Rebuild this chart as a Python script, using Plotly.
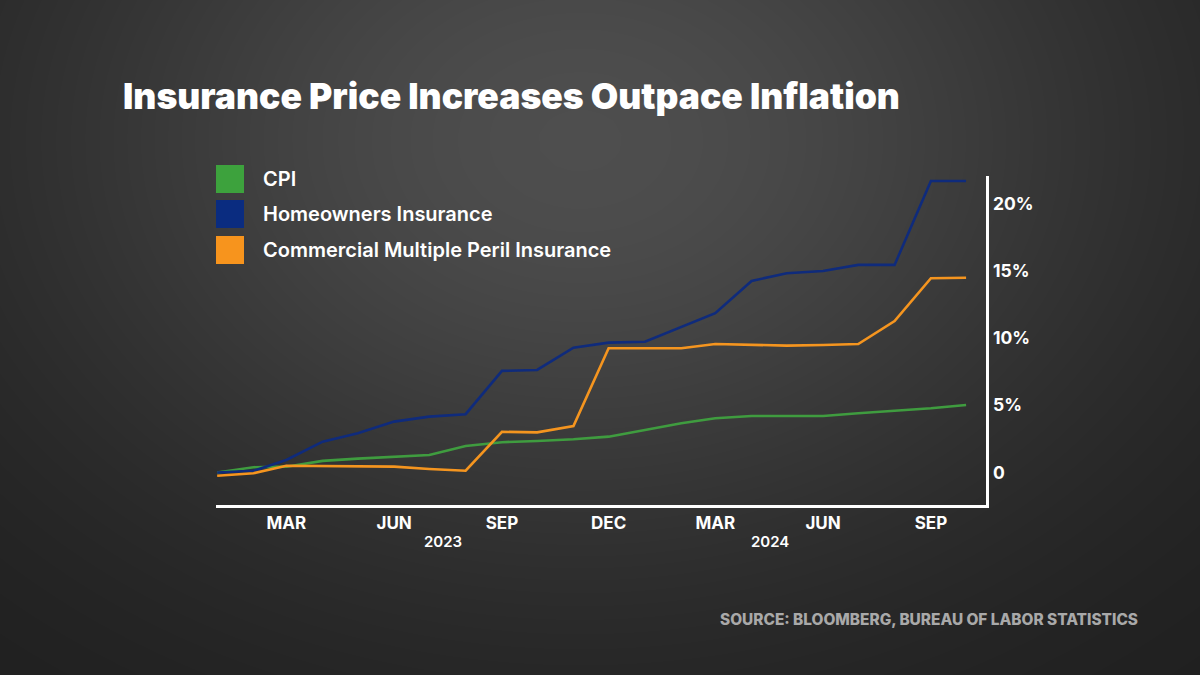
import numpy as np
import plotly.graph_objects as go

# ---------------- data ----------------
months = ["2023-01-01", "2023-02-01", "2023-03-01", "2023-04-01", "2023-05-01", "2023-06-01",
          "2023-07-01", "2023-08-01", "2023-09-01", "2023-10-01", "2023-11-01", "2023-12-01",
          "2024-01-01", "2024-02-01", "2024-03-01", "2024-04-01", "2024-05-01", "2024-06-01",
          "2024-07-01", "2024-08-01", "2024-09-01", "2024-10-01"]
cpi = [0.0, 0.39, 0.43, 0.86, 1.03, 1.17, 1.3, 1.97, 2.25, 2.34, 2.47, 2.66,
       3.16, 3.66, 4.03, 4.2, 4.2, 4.2, 4.4, 4.6, 4.77, 5.02]
homeowners = [0.0, 0.13, 0.93, 2.29, 2.91, 3.78, 4.15, 4.33, 7.55, 7.62, 9.28, 9.65,
              9.72, 10.8, 11.84, 14.24, 14.81, 14.98, 15.43, 15.43, 21.67, 21.67]
commercial = [-0.24, -0.06, 0.5, 0.48, 0.48, 0.43, 0.26, 0.13, 3.02, 2.98, 3.45, 9.23,
              9.23, 9.23, 9.55, 9.5, 9.43, 9.48, 9.55, 11.26, 14.44, 14.48]
series_names = ["CPI", "Homeowners Insurance", "Commercial Multiple Peril Insurance"]
series_colors = ["#3f9c3f", "#0f2b7c", "#f5951f"]
legend_colors = ["#3da23d", "#0a2c80", "#f7941d"]
x_tick_vals = ["2023-03-01", "2023-06-01", "2023-09-01", "2023-12-01",
               "2024-03-01", "2024-06-01", "2024-09-01"]
x_tick_text = ["MAR", "JUN", "SEP", "DEC", "MAR", "JUN", "SEP"]
y_tick_vals = [0, 5, 10, 15, 20]
y_tick_text = ["0", "5%", "10%", "15%", "20%"]
year_labels = ["2023", "2024"]
year_label_pos = ["2023-07-13", "2024-04-17"]

W, H = 1200, 675
FONT = "Inter"

fig = go.Figure()

# ---------------- background gradient (full-page heatmap on x/y) ----------------
gx = np.linspace(0, W, 81)
gy = np.linspace(0, H, 46)
GX, GY = np.meshgrid(gx, gy)
g1 = np.exp(-(((GX - 580) / 560) ** 2 + ((GY - 140) / 420) ** 2))
bg = 0.115 + 0.19 * g1
fig.add_trace(go.Heatmap(
    x=gx, y=gy, z=bg, zmin=0, zmax=1, zsmooth="best",
    colorscale=[[0, "#000000"], [1, "#ffffff"]], showscale=False,
    hoverinfo="skip", xaxis="x", yaxis="y"))

# ---------------- data lines on x2/y2 ----------------
for name, vals, col in zip(series_names, [cpi, homeowners, commercial], series_colors):
    fig.add_trace(go.Scatter(
        x=months, y=vals, mode="lines", name=name,
        line=dict(color=col, width=2.6), xaxis="x2", yaxis="y2", showlegend=False))

# ---------------- custom legend ----------------
leg_y = [179, 214, 250]
for name, col, yc in zip(series_names, legend_colors, leg_y):
    fig.add_shape(type="rect", xref="paper", yref="paper",
                  x0=216 / W, x1=244 / W, y0=1 - (yc + 14) / H, y1=1 - (yc - 14) / H,
                  fillcolor=col, line=dict(width=0), layer="above")
    fig.add_annotation(text=name, xref="paper", yref="paper", x=261 / W, y=1 - yc / H,
                       xanchor="left", yanchor="middle", showarrow=False,
                       font=dict(family=FONT, size=20, color="#ffffff", weight=600))

# title
fig.add_annotation(text="Insurance Price Increases Outpace Inflation", xref="paper", yref="paper",
                   x=121 / W, y=1 - 97 / H, xanchor="left", yanchor="middle", showarrow=False,
                   font=dict(family=FONT, size=35.5, color="#ffffff", weight=900))
# source
fig.add_annotation(text="SOURCE: BLOOMBERG, BUREAU OF LABOR STATISTICS", xref="paper", yref="paper",
                   x=1140 / W, y=1 - 619 / H, xanchor="right", yanchor="middle", showarrow=False,
                   font=dict(family=FONT, size=15.4, color="#a9a9a9", weight=800))
# year labels
for yl, xp in zip(year_labels, year_label_pos):
    fig.add_annotation(text=yl, xref="x2", yref="paper", x=xp, y=1 - 541 / H,
                       xanchor="center", yanchor="middle", showarrow=False,
                       font=dict(family=FONT, size=15, color="#ffffff", weight=600))

fig.update_layout(
    width=W, height=H,
    margin=dict(l=0, r=0, t=0, b=0),
    paper_bgcolor="#2a2a2a",
    plot_bgcolor="rgba(0,0,0,0)",
    showlegend=False,
    xaxis=dict(domain=[0, 1], range=[0, W], visible=False, fixedrange=True),
    yaxis=dict(domain=[0, 1], range=[H, 0], visible=False, fixedrange=True),
    xaxis2=dict(domain=[216 / W, 986 / W], anchor="y2", type="date",
                range=["2022-12-31", "2024-10-18"],
                showline=True, linecolor="#ffffff", linewidth=2.5, showgrid=False,
                zeroline=False, ticks="", tickvals=x_tick_vals, ticktext=x_tick_text,
                tickfont=dict(family=FONT, size=17, color="#ffffff", weight=700),
                ticklabelstandoff=1),
    yaxis2=dict(domain=[1 - 505 / H, 1 - 176 / H], anchor="x2", side="right",
                range=[-2.42, 22.04], showline=True, linecolor="#ffffff", linewidth=2.5,
                showgrid=False, zeroline=False, ticks="",
                tickvals=y_tick_vals, ticktext=y_tick_text,
                tickfont=dict(family=FONT, size=17.5, color="#ffffff", weight=700),
                ticklabelstandoff=1),
)

fig.write_html("out.html", config={"displayModeBar": False, "staticPlot": True},
               post_script="document.body.style.margin='0';document.body.style.overflow='hidden';")
